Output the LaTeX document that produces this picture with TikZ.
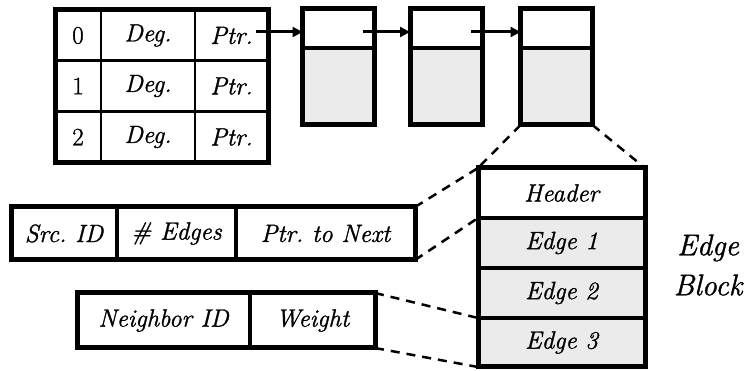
\documentclass[tikz,border=0pt]{standalone}
\usepackage{fontspec}
\setmainfont{Latin Modern Roman}[FakeBold=1.2]
\usetikzlibrary{arrows.meta}
\definecolor{cellgray}{HTML}{EBEBEB}
\begin{document}
\begin{tikzpicture}[x=1pt,y=-1pt,
  cell/.style={draw, line width=2.7pt, inner sep=0pt, outer sep=0pt, font=\fontsize{25}{28}\selectfont\itshape},
  gcell/.style={cell, fill=cellgray},
  outline/.style={line width=5pt},
  link/.style={line width=3pt, -{Triangle[length=10pt,width=10pt]}},
  zoomline/.style={line width=2.5pt, dash pattern=on 9pt off 7pt}
]
\useasboundingbox (0,0) rectangle (748,371);
% vertex table
\foreach \r/\y in {0/35.5,1/86,2/137}{
  \node[cell, minimum width=46pt, minimum height=51pt, font=\fontsize{25}{28}\selectfont\upshape] (i\r) at (78,\y) {\r};
  \node[cell, minimum width=94pt, minimum height=51pt] (d\r) at (148,\y) {Deg.};
  \node[cell, minimum width=73pt, minimum height=51pt] (p\r) at (231.5,\y) {Ptr.};
}
\draw[outline] (i0.north west) rectangle (p2.south east);
% linked blocks
\foreach \k/\x in {1/338.5,2/446,3/556.5}{
  \node[cell, line width=3.5pt, minimum width=72pt, minimum height=39pt] (h\k) at (\x,28.5) {};
  \node[gcell, line width=3.5pt, minimum width=72pt, minimum height=77pt] (b\k) at (\x,86.5) {};
  \draw[outline] (h\k.north west) rectangle (b\k.south east);
}
\coordinate (s0) at (256,32);
\coordinate (s1) at (363,32);
\coordinate (s2) at (471,32);
\draw[link] (s0) -- (s0 -| h1.west);
\draw[link] (s1) -- (s1 -| h2.west);
\draw[link] (s2) -- (s2 -| h3.west);
% edge block
\node[cell, line width=4pt, minimum width=167pt, minimum height=50pt] (eh) at (561.5,193) {Header};
\node[gcell, line width=4pt, minimum width=167pt, minimum height=50pt] (e1) at (561.5,243) {Edge 1};
\node[gcell, line width=4pt, minimum width=167pt, minimum height=50pt] (e2) at (561.5,293) {Edge 2};
\node[gcell, line width=4pt, minimum width=167pt, minimum height=49pt] (e3) at (561.5,342.5) {Edge 3};
\draw[outline] (eh.north west) rectangle (e3.south east);
\node[font=\fontsize{30}{40}\selectfont\itshape, align=center] (lbl) at (708,265) {Edge\\Block};
% header row
\node[cell, line width=3.5pt, minimum width=106pt, minimum height=53pt] (src) at (64,233.5) {Src.\ ID};
\node[cell, line width=3.5pt, minimum width=119pt, minimum height=53pt] (ne) at (176.5,233.5) {\# Edges};
\node[cell, line width=3.5pt, minimum width=179pt, minimum height=53pt] (nx) at (325.5,233.5) {Ptr.\ to Next};
\draw[outline] (src.north west) rectangle (nx.south east);
% edge row
\node[cell, line width=3.5pt, minimum width=173pt, minimum height=55pt] (nb) at (163.5,320.5) {Neighbor ID};
\node[cell, line width=3.5pt, minimum width=125pt, minimum height=55pt] (wt) at (312.5,320.5) {Weight};
\draw[outline] (nb.north west) rectangle (wt.south east);
% zoom lines
\draw[zoomline] (b3.south west) -- (eh.north west);
\draw[zoomline] (b3.south east) -- (eh.north east);
\draw[zoomline] (nx.north east) -- (eh.north west);
\draw[zoomline] (nx.south east) -- (eh.south west);
\draw[zoomline] (wt.north east) -- (e2.south west);
\draw[zoomline] (wt.south east) -- (e3.south west);
\end{tikzpicture}
\end{document}
